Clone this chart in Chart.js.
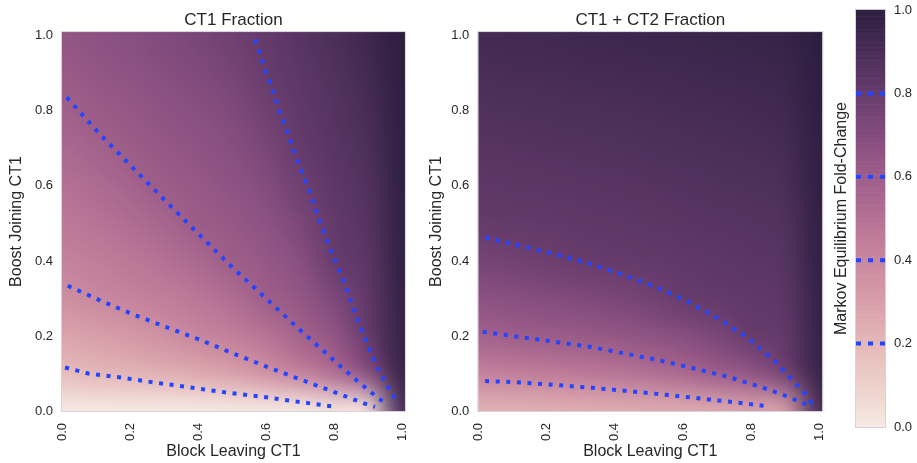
<!DOCTYPE html>
<html>
<head>
<meta charset="utf-8">
<script src="https://cdn.jsdelivr.net/npm/chart.js@4.4.1/dist/chart.umd.min.js"></script>
<style>
    html, body { margin: 0; padding: 0; background: #ffffff; }
    body { width: 917px; height: 463px; position: relative; overflow: hidden; }
    canvas { position: absolute; top: 0; }
</style>
</head>
<body>
<canvas id="LEFT" width="430" height="463" style="left:0px"></canvas>
<canvas id="RIGHT" width="430" height="463" style="left:420px"></canvas>
<canvas id="CBAR" width="87" height="463" style="left:830px"></canvas>
<script>
// DATA

const tickVals = [0, 0.2, 0.4, 0.6, 0.8, 1.0];
const levels = [0.2, 0.4, 0.6, 0.8];
const gridX = [0, 0.1, 0.2, 0.3, 0.4, 0.5, 0.6, 0.7, 0.8, 0.9, 1.0];
const gridY = [0, 0.1, 0.2, 0.3, 0.4, 0.5, 0.6, 0.7, 0.8, 0.9, 1.0];

// fold-change, one row per gridY (bottom to top), columns follow gridX
const ct1Rows = [
    [0.00, 0.00, 0.00, 0.00, 0.00, 0.00, 0.00, 0.00, 0.02, 0.05, 0.90],
    [0.18, 0.205, 0.216, 0.235, 0.261, 0.298, 0.354, 0.423, 0.517, 0.682, 0.96],
    [0.28, 0.302, 0.33, 0.366, 0.406, 0.439, 0.489, 0.576, 0.649, 0.805, 0.97],
    [0.37, 0.40, 0.42, 0.444, 0.477, 0.525, 0.60, 0.638, 0.725, 0.822, 0.975],
    [0.425, 0.445, 0.47, 0.503, 0.548, 0.604, 0.633, 0.683, 0.80, 0.839, 0.98],
    [0.465, 0.489, 0.521, 0.562, 0.607, 0.631, 0.667, 0.728, 0.815, 0.856, 0.985],
    [0.505, 0.534, 0.572, 0.609, 0.632, 0.659, 0.70, 0.773, 0.83, 0.873, 0.99],
    [0.545, 0.578, 0.611, 0.634, 0.658, 0.687, 0.733, 0.806, 0.845, 0.889, 0.99],
    [0.585, 0.613, 0.636, 0.66, 0.684, 0.714, 0.767, 0.821, 0.86, 0.906, 0.995],
    [0.62, 0.64, 0.66, 0.685, 0.71, 0.742, 0.80, 0.835, 0.875, 0.923, 1.0],
    [0.645, 0.665, 0.685, 0.71, 0.735, 0.77, 0.81, 0.85, 0.89, 0.94, 1.0]
];

const ct12Rows = [
    [0.22, 0.225, 0.23, 0.235, 0.24, 0.245, 0.25, 0.26, 0.28, 0.30, 0.90],
    [0.427, 0.437, 0.45, 0.465, 0.486, 0.512, 0.549, 0.601, 0.648, 0.762, 0.96],
    [0.58, 0.60, 0.61, 0.622, 0.639, 0.66, 0.689, 0.735, 0.802, 0.816, 0.97],
    [0.669, 0.681, 0.698, 0.711, 0.733, 0.761, 0.80, 0.811, 0.822, 0.836, 0.975],
    [0.748, 0.763, 0.78, 0.80, 0.806, 0.814, 0.822, 0.831, 0.842, 0.855, 0.98],
    [0.808, 0.812, 0.817, 0.823, 0.829, 0.835, 0.843, 0.852, 0.861, 0.874, 0.985],
    [0.83, 0.835, 0.84, 0.845, 0.851, 0.857, 0.865, 0.872, 0.881, 0.893, 0.99],
    [0.853, 0.857, 0.862, 0.868, 0.873, 0.879, 0.886, 0.893, 0.901, 0.913, 0.99],
    [0.875, 0.88, 0.885, 0.89, 0.895, 0.901, 0.907, 0.914, 0.921, 0.932, 0.995],
    [0.898, 0.903, 0.907, 0.913, 0.918, 0.923, 0.929, 0.934, 0.94, 0.951, 1.0],
    [0.92, 0.925, 0.93, 0.935, 0.94, 0.945, 0.95, 0.955, 0.96, 0.97, 1.0]
];

// contour lines [x, y]
const ct1Level02 = [[0.009, 0.116], [0.077, 0.100], [0.174, 0.089], [0.272, 0.076], [0.384, 0.062], [0.486, 0.049], [0.589, 0.038], [0.691, 0.025], [0.798, 0.012]];
const ct1Level04 = [[0.017, 0.334], [0.116, 0.293], [0.213, 0.256], [0.311, 0.222], [0.408, 0.189], [0.501, 0.154], [0.594, 0.121], [0.686, 0.089], [0.784, 0.056], [0.886, 0.021], [0.920, 0.011]];
const ct1Level06 = [[0.014, 0.836], [0.106, 0.743], [0.204, 0.652], [0.301, 0.563], [0.399, 0.474], [0.496, 0.387], [0.594, 0.305], [0.696, 0.219], [0.798, 0.136], [0.876, 0.074], [0.930, 0.034], [0.959, 0.016]];
const ct1Level08 = [[0.567, 0.990], [0.613, 0.869], [0.672, 0.718], [0.720, 0.603], [0.779, 0.452], [0.832, 0.336], [0.871, 0.238], [0.915, 0.140], [0.954, 0.069], [0.974, 0.043], [0.983, 0.016]];

const ct12Level04 = [[0.020, 0.080], [0.127, 0.076], [0.230, 0.069], [0.332, 0.062], [0.440, 0.053], [0.542, 0.044], [0.645, 0.034], [0.752, 0.023], [0.855, 0.012]];
const ct12Level06 = [[0.013, 0.211], [0.117, 0.198], [0.220, 0.185], [0.322, 0.172], [0.425, 0.154], [0.527, 0.136], [0.630, 0.114], [0.728, 0.092], [0.825, 0.065], [0.894, 0.043], [0.952, 0.021], [0.982, 0.014]];
const ct12Level08 = [[0.020, 0.462], [0.122, 0.441], [0.225, 0.418], [0.327, 0.393], [0.420, 0.365], [0.518, 0.332], [0.611, 0.293], [0.703, 0.247], [0.791, 0.194], [0.869, 0.133], [0.938, 0.065], [0.964, 0.041], [0.982, 0.013]];

// STYLE

const FONT = "'Liberation Sans', Arial, sans-serif";
const TXT = '#262626';
const DOTS = '#2444ff';

// seaborn style cubehelix colour map
function cmap(v) {
    const light = 0.93, dark = 0.15, rot = 0.4, hue = 0.8;
    const t = light + (dark - light) * Math.min(1, Math.max(0, v));
    const a = hue * t * (1 - t) / 2;
    const phi = 2 * Math.PI * (rot * t);
    const c = Math.cos(phi), s = Math.sin(phi);
    const f = (p0, p1) => Math.round(255 * Math.min(1, Math.max(0, t + a * (p0 * c + p1 * s))));
    return [f(-0.14861, 1.78277), f(-0.29227, -0.90649), f(1.97294, 0)];
}

// draws the value grid under the contour lines
const heatmapPlugin = {
    id: 'heatmap',
    beforeDatasetsDraw(chart, args, opts) {
        const { ctx, chartArea: area, scales: { x, y } } = chart;
        const rows = opts.rows;
        const nx = gridX.length, ny = gridY.length;
        const img = document.createElement('canvas');
        img.width = nx;
        img.height = ny;
        const ictx = img.getContext('2d');
        const pix = ictx.createImageData(nx, ny);
        rows.forEach((row, j) => {
            row.forEach((v, i) => {
                const col = cmap(v);
                const k = ((ny - 1 - j) * nx + i) * 4;
                pix.data[k] = col[0];
                pix.data[k + 1] = col[1];
                pix.data[k + 2] = col[2];
                pix.data[k + 3] = 255;
            });
        });
        ictx.putImageData(pix, 0, 0);
        const hx = (gridX[1] - gridX[0]) / 2, hy = (gridY[1] - gridY[0]) / 2;
        const left = x.getPixelForValue(gridX[0] - hx);
        const right = x.getPixelForValue(gridX[nx - 1] + hx);
        const top = y.getPixelForValue(gridY[ny - 1] + hy);
        const bottom = y.getPixelForValue(gridY[0] - hy);
        ctx.save();
        ctx.beginPath();
        ctx.rect(area.left, area.top, area.right - area.left, area.bottom - area.top);
        ctx.clip();
        ctx.imageSmoothingEnabled = true;
        ctx.imageSmoothingQuality = 'high';
        ctx.drawImage(img, left, top, right - left, bottom - top);
        ctx.restore();
    },
    afterDatasetsDraw(chart) {
        const { ctx, chartArea: area } = chart;
        ctx.save();
        ctx.strokeStyle = 'rgba(205,198,212,0.8)';
        ctx.lineWidth = 1;
        ctx.strokeRect(area.left - 0.5, area.top - 0.5, area.right - area.left + 1, area.bottom - area.top + 1);
        ctx.restore();
    }
};

function contourSet(points) {
    return {
        data: points.map(p => ({ x: p[0], y: p[1] })),
        showLine: true,
        borderColor: DOTS,
        borderWidth: 4,
        borderDash: [4, 6.6],
        pointRadius: 0,
        fill: false,
    };
}

function tickSetter(scale) {
    scale.ticks = tickVals.map(v => ({ value: v }));
}

function panel(canvas, title, rows, contours, yWidth, padRight) {
    return new Chart(canvas, {
        type: 'scatter',
        data: { datasets: contours.map(contourSet) },
        options: {
            responsive: false,
            animation: false,
            events: [],
            layout: { padding: { left: 0, right: padRight, top: 0, bottom: 0 } },
            plugins: {
                legend: { display: false },
                tooltip: { enabled: false },
                title: {
                    display: true, text: title, fullSize: false, color: TXT,
                    font: { family: FONT, size: 17, weight: 'normal' },
                    padding: { top: 10, bottom: 1.7 }
                },
                heatmap: { rows: rows }
            },
            scales: {
                x: {
                    type: 'linear', min: 0, max: 1.008,
                    grid: { display: false, drawTicks: false },
                    border: { display: false },
                    afterBuildTicks: tickSetter,
                    afterFit: s => { s.height = 52; },
                    ticks: {
                        autoSkip: false, minRotation: 90, maxRotation: 90, padding: 12,
                        color: TXT, font: { family: FONT, size: 13 },
                        callback: v => v.toFixed(1)
                    },
                    title: {
                        display: true, text: 'Block Leaving CT1', color: TXT,
                        font: { family: FONT, size: 16 }, padding: { top: 0, bottom: 2 }
                    }
                },
                y: {
                    type: 'linear', min: 0, max: 1.01,
                    grid: { display: false, drawTicks: false },
                    border: { display: false },
                    afterBuildTicks: tickSetter,
                    afterFit: s => { s.width = yWidth; },
                    ticks: {
                        padding: 9, color: TXT, font: { family: FONT, size: 13 },
                        callback: v => v.toFixed(1)
                    },
                    title: {
                        display: true, text: 'Boost Joining CT1', color: TXT,
                        font: { family: FONT, size: 16 }, padding: { top: 7.4, bottom: 0 }
                    }
                }
            }
        },
        plugins: [heatmapPlugin]
    });
}

// CHART CREATION

const chart1 = panel(document.getElementById('LEFT'), 'CT1 Fraction', ct1Rows,
    [ct1Level02, ct1Level04, ct1Level06, ct1Level08], 62, 23.3);
const chart2 = panel(document.getElementById('RIGHT'), 'CT1 + CT2 Fraction', ct12Rows,
    [ct12Level04, ct12Level06, ct12Level08], 58.3, 27.7);

// colour bar
const colorbarPlugin = {
    id: 'colorbar',
    beforeDatasetsDraw(chart) {
        const { ctx, chartArea: area, scales: { y } } = chart;
        const steps = 256;
        ctx.save();
        for (let i = 0; i < steps; i++) {
            const v0 = i / steps, v1 = (i + 1) / steps;
            const col = cmap((v0 + v1) / 2);
            const yTop = y.getPixelForValue(v1), yBot = y.getPixelForValue(v0);
            ctx.fillStyle = 'rgb(' + col.join(',') + ')';
            ctx.fillRect(area.left, yTop - 0.3, area.right - area.left, yBot - yTop + 0.6);
        }
        ctx.strokeStyle = 'rgba(205,198,212,0.8)';
        ctx.lineWidth = 1;
        ctx.strokeRect(area.left - 0.5, area.top - 0.5, area.right - area.left + 1, area.bottom - area.top + 1);
        ctx.restore();
    }
};

const chart3 = new Chart(document.getElementById('CBAR'), {
    type: 'scatter',
    data: {
        datasets: levels.map(lv => ({
            data: [{ x: 0, y: lv }, { x: 1, y: lv }],
            showLine: true,
            borderColor: DOTS,
            borderWidth: 4,
            borderDash: [5, 7],
            pointRadius: 0,
            yAxisID: 'y',
        })),
    },
    options: {
        responsive: false,
        animation: false,
        events: [],
        layout: { padding: { left: 0, right: 0, top: 10, bottom: 36 } },
        plugins: { legend: { display: false }, tooltip: { enabled: false } },
        scales: {
            x: { type: 'linear', min: 0, max: 1, display: false },
            y: {
                type: 'linear', position: 'right', min: 0, max: 1,
                grid: { display: false, drawTicks: false },
                border: { display: false },
                afterBuildTicks: tickSetter,
                afterFit: s => { s.width = 32; s.paddingTop = 0; s.paddingBottom = 0; },
                ticks: {
                    padding: 9, color: TXT, font: { family: FONT, size: 13 },
                    callback: v => v.toFixed(1)
                }
            },
            yl: {
                type: 'linear', position: 'left', min: 0, max: 1,
                grid: { display: false, drawTicks: false },
                border: { display: false },
                afterFit: s => { s.width = 26; s.paddingTop = 0; s.paddingBottom = 0; },
                ticks: { display: false },
                title: {
                    display: true, text: 'Markov Equilibrium Fold-Change', color: TXT,
                    font: { family: FONT, size: 16 }, padding: { top: 2.4, bottom: 0 }
                }
            }
        }
    },
    plugins: [colorbarPlugin]
});
</script>
</body>
</html>
